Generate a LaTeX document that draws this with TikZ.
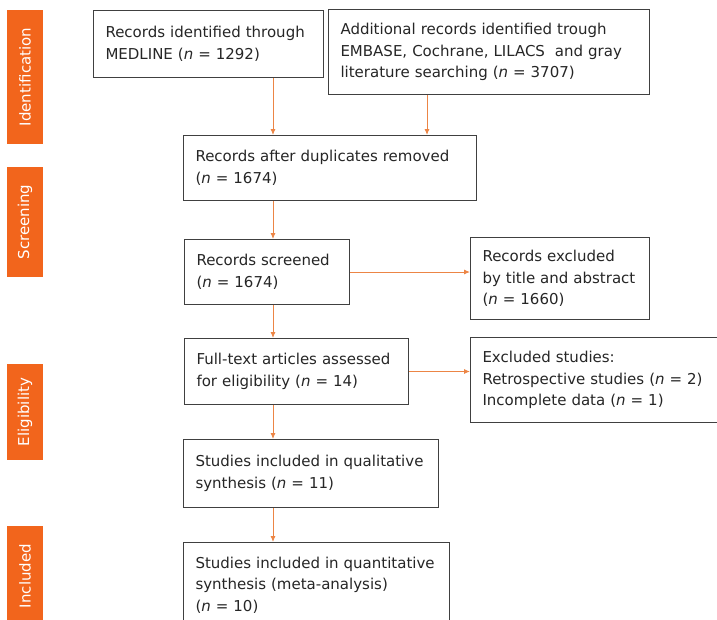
\documentclass[tikz,border=0pt]{standalone}
\usepackage{fontspec}
\setmainfont{DejaVu Sans}
\usetikzlibrary{positioning}
\usetikzlibrary{arrows.meta}

\definecolor{labelorange}{HTML}{F2651C}
\definecolor{arrorange}{HTML}{EC8545}
\definecolor{boxgray}{HTML}{404040}

\begin{document}
\begin{tikzpicture}[
    x=1pt, y=1pt,
    box/.style={align=left, rectangle, draw=boxgray, line width=1pt, fill=white, text=black!85, inner xsep=12pt, font=\fontsize{15}{21.5}\selectfont, anchor=north west},
    phase/.style={rectangle, fill=labelorange, text=white, rotate=90, minimum height=36pt, inner sep=0pt, font=\fontsize{15}{18}\selectfont},
    arr/.style={draw=arrorange, line width=0.9pt, -{Latex[length=6pt,width=5pt]}}
]
    \useasboundingbox (0,0) rectangle (717,-619);

    \node[phase, minimum width=134pt] (L1) at (25,-77) {Identification};
    \node[phase, minimum width=110pt] (L2) at (25,-222) {Screening};
    \node[phase, minimum width=96pt] (L3) at (25,-412) {Eligibility};
    \node[phase, minimum width=100pt] (L4) at (25,-576) {Included};

    \node[box, text width=206pt, minimum height=67pt] (med) at (93,-10) {Records identified through\\MEDLINE (\textit{n} = 1292)};
    \node[box, text width=297pt, minimum height=85pt] (add) [right=4pt of med.north east, anchor=north west, yshift=1pt] {Additional records identified trough\\EMBASE, Cochrane, LILACS\ \ and gray\\literature searching (\textit{n} = 3707)};

    \node[box, text width=269pt, minimum height=65pt] (dup) [below right=57pt and 90pt of med.south west] {Records after duplicates removed\\(\textit{n} = 1674)};
    \node[box, text width=141pt, minimum height=65pt] (scr) [below=38pt of dup.south west, anchor=north west, xshift=1pt] {Records screened\\(\textit{n} = 1674)};
    \node[box, text width=155pt, minimum height=82pt] (exc1) [right=120pt of scr.north east, anchor=north west, yshift=2pt] {Records excluded\\by title and abstract\\(\textit{n} = 1660)};

    \node[box, text width=200pt, minimum height=66pt] (full) [below=33pt of scr.south west, anchor=north west] {Full-text articles assessed\\for eligibility (\textit{n} = 14)};
    \node[box, text width=227pt, minimum height=85pt] (exc2) [right=61pt of full.north east, anchor=north west, yshift=1pt] {Excluded studies:\\Retrospective studies (\textit{n} = 2)\\Incomplete data (\textit{n} = 1)};

    \node[box, text width=231pt, minimum height=68pt] (qual) [below=34pt of full.south west, anchor=north west, xshift=-1pt] {Studies included in qualitative\\synthesis (\textit{n} = 11)};
    \node[box, text width=242pt, minimum height=85pt] (quan) [below=34pt of qual.south west, anchor=north west] {Studies included in quantitative\\synthesis (meta-analysis)\\(\textit{n} = 10)};

    % arrow columns
    \coordinate (spine) at (273,0);
    \coordinate (spineb) at (427,0);

    \draw[arr] (med.south -| spine) -- (dup.north -| spine);
    \draw[arr] (add.south -| spineb) -- (dup.north -| spineb);
    \draw[arr] (dup.south -| spine) -- (scr.north -| spine);
    \draw[arr] (scr.east) -- (scr.east -| exc1.west);
    \draw[arr] (scr.south -| spine) -- (full.north -| spine);
    \draw[arr] (full.east) -- (full.east -| exc2.west);
    \draw[arr] (full.south -| spine) -- (qual.north -| spine);
    \draw[arr] (qual.south -| spine) -- (quan.north -| spine);

\end{tikzpicture}
\end{document}
